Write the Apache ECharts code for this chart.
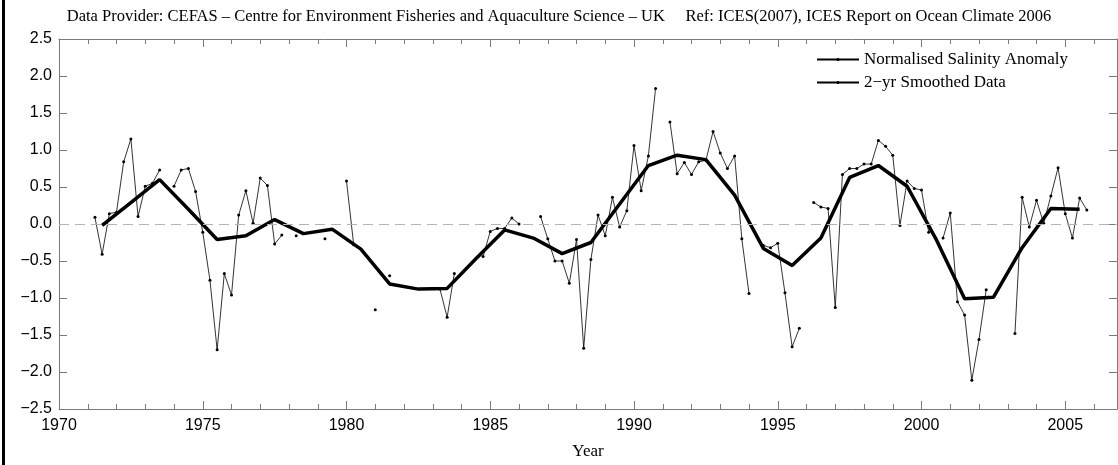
<!DOCTYPE html>
<html>
<head>
<meta charset="utf-8">
<title>Normalised Salinity Anomaly</title>
<script src="https://cdn.jsdelivr.net/npm/echarts@6/dist/echarts.min.js"></script>
<style>
	html, body { margin: 0; padding: 0; background: #fff; }
	#chart { width: 1118px; height: 465px; }
</style>
</head>
<body>
<div id="chart"></div>
<script>
	// quarterly anomaly, one row per year (Q1..Q4), null = no data
	var anomalyStart = 1971;
	var anomalyQuarterly = [
		null, 0.09, -0.41, 0.14,     // 1971
		0.16, 0.84, 1.15, 0.10,      // 1972
		0.51, 0.55, 0.73, null,      // 1973
		0.51, 0.73, 0.75, 0.44,      // 1974
		-0.11, -0.76, -1.70, -0.67,  // 1975
		-0.96, 0.12, 0.45, 0.01,     // 1976
		0.62, 0.52, -0.27, -0.15,    // 1977
		null, -0.16, null, null,     // 1978
		null, -0.20, null, null,     // 1979
		0.58, -0.28, null, null,     // 1980
		-1.16, null, -0.70, null,    // 1981
		null, null, null, null,      // 1982
		null, -0.88, -1.26, -0.67,   // 1983
		null, null, null, -0.44,     // 1984
		-0.10, -0.06, -0.06, 0.08,   // 1985
		0.00, null, null, 0.10,      // 1986
		-0.20, -0.50, -0.50, -0.80,  // 1987
		-0.21, -1.68, -0.48, 0.12,   // 1988
		-0.16, 0.36, -0.04, 0.18,    // 1989
		1.06, 0.45, 0.92, 1.83,      // 1990
		null, 1.38, 0.68, 0.83,      // 1991
		0.67, 0.84, 0.86, 1.25,      // 1992
		0.96, 0.75, 0.92, -0.20,     // 1993
		-0.94, null, -0.29, -0.32,   // 1994
		-0.26, -0.93, -1.66, -1.41,  // 1995
		null, 0.29, 0.23, 0.21,      // 1996
		-1.13, 0.67, 0.75, 0.75,     // 1997
		0.81, 0.81, 1.13, 1.05,      // 1998
		0.93, -0.02, 0.58, 0.48,     // 1999
		0.46, -0.11, null, -0.19,    // 2000
		0.15, -1.05, -1.23, -2.11,   // 2001
		-1.56, -0.89, null, null,    // 2002
		null, -1.48, 0.36, -0.04,    // 2003
		0.32, 0.01, 0.38, 0.76,      // 2004
		0.14, -0.19, 0.35, 0.19      // 2005
	];

	// 2-yr smoothed curve
	var smoothYears = [1971.5, 1972.5, 1973.5, 1974.5, 1975.5, 1976.5, 1977.5, 1978.5, 1979.5, 1980.5,
		1981.5, 1982.5, 1983.5, 1984.5, 1985.5, 1986.5, 1987.5, 1988.5, 1989.5, 1990.5,
		1991.5, 1992.5, 1993.5, 1994.5, 1995.5, 1996.5, 1997.5, 1998.5, 1999.5, 2000.5,
		2001.5, 2002.5, 2003.5, 2004.5, 2005.5];
	var smoothValues = [-0.02, 0.29, 0.60, 0.20, -0.21, -0.16, 0.06, -0.13, -0.07, -0.34,
		-0.81, -0.88, -0.87, -0.47, -0.08, -0.19, -0.40, -0.25, 0.27, 0.79,
		0.93, 0.87, 0.39, -0.33, -0.56, -0.19, 0.63, 0.79, 0.51, -0.20,
		-1.01, -0.99, -0.32, 0.21, 0.20];

	var yearLabels = [1970, 1975, 1980, 1985, 1990, 1995, 2000, 2005];

	var titleText = 'Data Provider: CEFAS \u2013 Centre for Environment Fisheries and Aquaculture Science \u2013 UK' +
		'     Ref: ICES(2007), ICES Report on Ocean Climate 2006';

	var SERIF = "'Liberation Serif', 'DejaVu Serif', serif";
	var SANS = "'Liberation Sans', Arial, sans-serif";
	var AXIS_COLOR = '#7a7a7a';

	var anomalyData = anomalyQuarterly.map(function(v, i) {
		return [anomalyStart + i * 0.25, v === null ? '-' : v];
	});
	var smoothData = smoothYears.map(function(y, i) {
		return [y, smoothValues[i]];
	});

	// shared axis pieces
	function xAxisBase(pos, showLabel) {
		return {
			type: 'value',
			position: pos,
			min: 1970,
			max: 2006.8,
			interval: 5,
			axisLine: { show: true, onZero: false, lineStyle: { color: AXIS_COLOR, width: 1 } },
			axisTick: { show: true, inside: true, length: 8, lineStyle: { color: AXIS_COLOR } },
			minorTick: { show: true, splitNumber: 5, length: 5, lineStyle: { color: AXIS_COLOR } },
			splitLine: { show: false },
			minorSplitLine: { show: false },
			axisLabel: {
				show: showLabel,
				showMaxLabel: false,
				margin: 9,
				color: '#000',
				fontFamily: SANS,
				fontSize: 16,
				formatter: function(v) {
					return yearLabels.indexOf(v) >= 0 ? String(v) : '';
				}
			}
		};
	}
	function yAxisBase(pos, showLabel) {
		return {
			type: 'value',
			position: pos,
			min: -2.5,
			max: 2.5,
			interval: 0.5,
			axisLine: { show: true, onZero: false, lineStyle: { color: AXIS_COLOR, width: 1 } },
			axisTick: { show: true, inside: true, length: 8, lineStyle: { color: AXIS_COLOR } },
			splitLine: { show: false },
			axisLabel: {
				show: showLabel,
				margin: 7,
				color: '#000',
				fontFamily: SANS,
				fontSize: 16,
				formatter: function(v) {
					return v.toFixed(1).replace('-', '\u2212');
				}
			}
		};
	}

	var xBottom = xAxisBase('bottom', true);
	xBottom.name = 'Year';
	xBottom.nameLocation = 'middle';
	xBottom.nameGap = 34;
	xBottom.nameTextStyle = { color: '#000', fontFamily: SERIF, fontSize: 17 };

	var option = {
		animation: false,
		backgroundColor: '#fff',
		title: {
			text: titleText,
			left: 'center',
			top: 3,
			textStyle: { color: '#000', fontFamily: SERIF, fontSize: 16.5, fontWeight: 'normal' }
		},
		legend: {
			orient: 'vertical',
			left: 811,
			top: 46,
			itemWidth: 42,
			itemHeight: 4,
			itemGap: 6,
			selectedMode: false,
			textStyle: { color: '#000', fontFamily: SERIF, fontSize: 17, lineHeight: 17 },
			data: ['Normalised Salinity Anomaly', '2\u2212yr Smoothed Data']
		},
		graphic: [{
			// black frame line on the left edge
			type: 'rect',
			left: 2,
			top: 0,
			shape: { width: 3, height: 465 },
			style: { fill: '#000' },
			silent: true
		}],
		grid: { left: 59, right: 1, top: 39, bottom: 51, containLabel: false },
		xAxis: [xBottom, xAxisBase('top', false)],
		yAxis: [yAxisBase('left', true), yAxisBase('right', false)],
		series: [
			{
				name: 'Normalised Salinity Anomaly',
				type: 'line',
				xAxisIndex: 0,
				yAxisIndex: 0,
				data: anomalyData,
				connectNulls: false,
				symbol: 'circle',
				symbolSize: 3,
				showAllSymbol: true,
				silent: true,
				itemStyle: { color: '#000' },
				lineStyle: { color: '#000', width: 0.8 },
				emphasis: { disabled: true },
				markLine: {
					silent: true,
					symbol: 'none',
					label: { show: false },
					lineStyle: { color: '#b3b3b3', width: 1, type: [10, 6] },
					data: [{ yAxis: 0 }]
				}
			},
			{
				name: '2\u2212yr Smoothed Data',
				type: 'line',
				xAxisIndex: 0,
				yAxisIndex: 0,
				data: smoothData,
				symbol: 'none',
				silent: true,
				itemStyle: { color: '#000' },
				lineStyle: { color: '#000', width: 3.5 },
				emphasis: { disabled: true }
			}
		]
	};

	var myChart = echarts.init(document.getElementById('chart'), null, { renderer: 'canvas' });
	myChart.setOption(option);
	window.onresize = myChart.resize;
</script>
</body>
</html>
